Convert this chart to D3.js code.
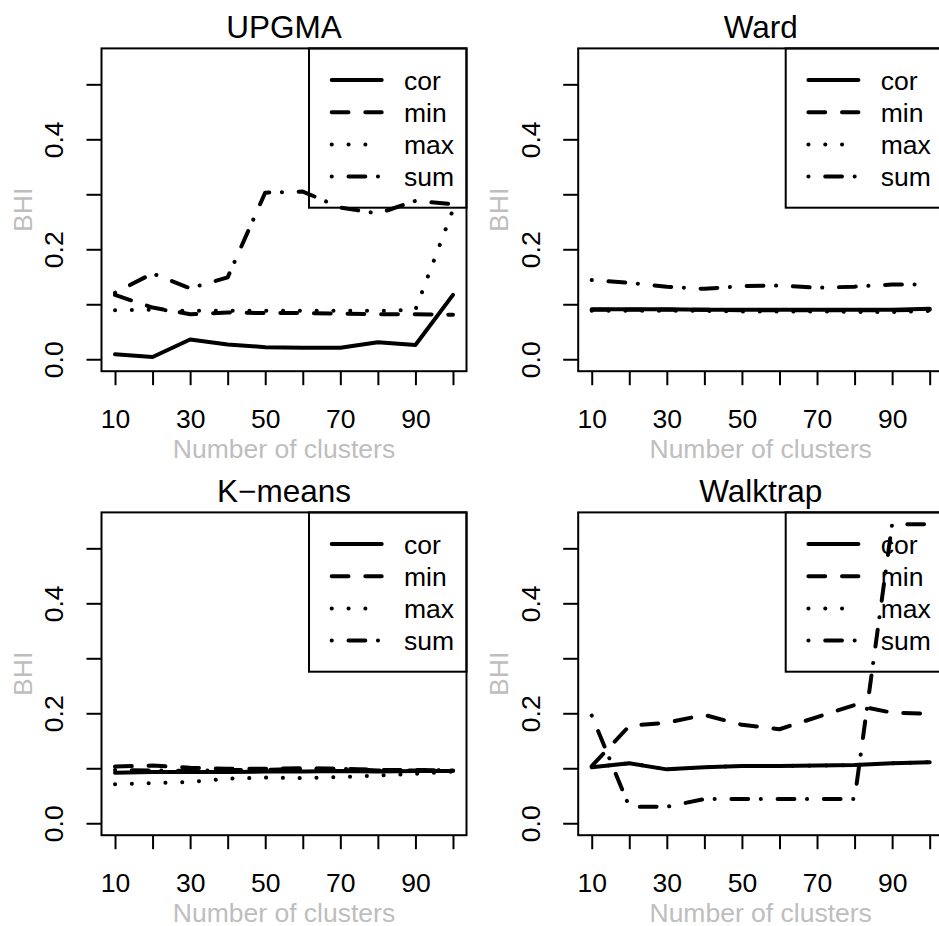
<!DOCTYPE html>
<html>
<head>
<meta charset="utf-8">
<script src="https://cdn.jsdelivr.net/npm/d3@7"></script>
<style>
  body { margin: 0; background: #fff; }
  svg { display: block; font-family: "Liberation Sans", Arial, Helvetica, sans-serif; }
</style>
</head>
<body>
<div id="chart"></div>
<script>
'use strict';

// cluster counts on the x axis
var clusters = [10, 20, 30, 40, 50, 60, 70, 80, 90, 100];
var xTicks = [10, 20, 30, 40, 50, 60, 70, 80, 90, 100];
var xLabels = [10, 30, 50, 70, 90];
var yTicks = [0, 0.1, 0.2, 0.3, 0.4, 0.5];
var yLabels = [0, 0.2, 0.4];

var titles = ['UPGMA', 'Ward', 'K\u2212means', 'Walktrap'];
var seriesNames = ['cor', 'min', 'max', 'sum'];

// BHI values
var upgmaCor = [0.009, 0.004, 0.036, 0.027, 0.022, 0.021, 0.021, 0.031, 0.026, 0.117];
var upgmaMin = [0.117, 0.094, 0.082, 0.085, 0.084, 0.084, 0.083, 0.082, 0.082, 0.081];
var upgmaMax = [0.089, 0.090, 0.088, 0.088, 0.088, 0.088, 0.088, 0.088, 0.090, 0.272];
var upgmaSum = [0.121, 0.156, 0.129, 0.149, 0.303, 0.305, 0.276, 0.265, 0.288, 0.282];

var wardCor = [0.091, 0.091, 0.091, 0.090, 0.090, 0.090, 0.090, 0.090, 0.090, 0.092];
var wardMin = [0.090, 0.090, 0.090, 0.090, 0.089, 0.089, 0.089, 0.089, 0.089, 0.090];
var wardMax = [0.088, 0.088, 0.088, 0.088, 0.087, 0.087, 0.087, 0.086, 0.086, 0.088];
var wardSum = [0.144, 0.139, 0.132, 0.128, 0.133, 0.134, 0.130, 0.132, 0.136, 0.136];

var kmeansCor = [0.092, 0.093, 0.093, 0.093, 0.094, 0.094, 0.095, 0.094, 0.095, 0.095];
var kmeansMin = [0.103, 0.105, 0.101, 0.099, 0.099, 0.100, 0.099, 0.097, 0.097, 0.096];
var kmeansMax = [0.071, 0.073, 0.075, 0.081, 0.083, 0.082, 0.084, 0.087, 0.090, 0.094];
var kmeansSum = [0.097, 0.096, 0.095, 0.097, 0.097, 0.099, 0.099, 0.096, 0.096, 0.097];

var walktrapCor = [0.102, 0.109, 0.098, 0.102, 0.104, 0.104, 0.105, 0.106, 0.109, 0.111];
var walktrapMin = [0.104, 0.177, 0.183, 0.197, 0.179, 0.171, 0.193, 0.215, 0.201, 0.199];
var walktrapMax = [0.102, 0.109, 0.098, 0.102, 0.104, 0.104, 0.105, 0.106, 0.109, 0.111];
var walktrapSum = [0.196, 0.030, 0.030, 0.044, 0.044, 0.044, 0.044, 0.044, 0.544, 0.544];

var panelData = [
  [upgmaCor, upgmaMin, upgmaMax, upgmaSum],
  [wardCor, wardMin, wardMax, wardSum],
  [kmeansCor, kmeansMin, kmeansMax, kmeansSum],
  [walktrapCor, walktrapMin, walktrapMax, walktrapSum]
];

// R lty 1..4 at lwd ~4px, round caps
var dashes = [null, '16.8,16.8', '0.1,16.7', '0.1,16.7,16.8,12.6'];

function render() {
  var width = 939;
  var height = 926;
  var plotW = 365, plotH = 322.8;
  var lefts = [101.5, 578.2];
  var tops = [48.4, 512.4];
  var grey = '#bebebe';

  var svg = d3.select('#chart').append('svg')
    .attr('width', width)
    .attr('height', height);

  svg.append('rect').attr('width', width).attr('height', height).attr('fill', '#fff');

  var defs = svg.append('defs');

  panelData.forEach(function(series, i) {
    var left = lefts[i % 2];
    var top = tops[Math.floor(i / 2)];

    var x = d3.scaleLinear().domain([6.4, 103.6]).range([0, plotW]);
    var y = d3.scaleLinear().domain([-0.02174, 0.56534]).range([plotH, 0]);

    var g = svg.append('g').attr('transform', 'translate(' + left + ',' + top + ')');

    defs.append('clipPath').attr('id', 'clip' + i)
      .append('rect').attr('width', plotW).attr('height', plotH);

    // x axis
    var xa = g.append('g')
      .attr('transform', 'translate(0,' + plotH + ')')
      .call(d3.axisBottom(x).tickValues(xTicks).tickSize(14)
        .tickFormat(function(d) { return xLabels.indexOf(d) >= 0 ? d : ''; }));
    xa.select('.domain').remove();
    xa.selectAll('line').attr('stroke', '#000').attr('stroke-width', 2);
    xa.selectAll('text')
      .attr('y', 57.1).attr('dy', null)
      .attr('font-size', '26.5px').attr('fill', '#000')
      .attr('font-family', null);

    // y axis
    var ya = g.append('g')
      .call(d3.axisLeft(y).tickValues(yTicks).tickSize(15)
        .tickFormat(function(d) {
          return yLabels.some(function(v) { return Math.abs(v - d) < 1e-9; }) ? d3.format('.1f')(d) : '';
        }));
    ya.select('.domain').remove();
    ya.selectAll('line').attr('stroke', '#000').attr('stroke-width', 2);
    ya.selectAll('text')
      .attr('transform', 'rotate(-90)')
      .attr('x', 0).attr('y', -38.5).attr('dy', null)
      .attr('text-anchor', 'middle')
      .attr('font-size', '26.5px').attr('fill', '#000')
      .attr('font-family', null);

    // title and axis titles
    g.append('text')
      .attr('x', plotW / 2).attr('y', -10.1)
      .attr('text-anchor', 'middle')
      .attr('font-size', '31.5px')
      .text(titles[i]);

    g.append('text')
      .attr('x', plotW / 2).attr('y', plotH + 87.2)
      .attr('text-anchor', 'middle')
      .attr('font-size', '26.5px').attr('fill', grey)
      .text('Number of clusters');

    g.append('text')
      .attr('transform', 'translate(' + (-69.8) + ',' + (plotH / 2) + ') rotate(-90)')
      .attr('text-anchor', 'middle')
      .attr('font-size', '26.5px').attr('fill', grey)
      .text('BHI');

    // legend (top right, transparent)
    var legW = 157.5, legH = 159.3;
    var leg = g.append('g').attr('transform', 'translate(' + (plotW - legW) + ',0)');
    leg.append('rect')
      .attr('width', legW).attr('height', legH)
      .attr('fill', 'none').attr('stroke', '#000').attr('stroke-width', 2);
    seriesNames.forEach(function(name, k) {
      var ly = 31.6 + k * 32.2;
      leg.append('line')
        .attr('x1', 22.7).attr('x2', 72.7)
        .attr('y1', ly).attr('y2', ly)
        .attr('stroke', '#000').attr('stroke-width', 4)
        .attr('stroke-linecap', 'round')
        .attr('stroke-dasharray', dashes[k]);
      leg.append('text')
        .attr('x', 95).attr('y', ly + 9.6)
        .attr('font-size', '26.5px')
        .text(name);
    });

    // series lines
    var line = d3.line()
      .x(function(d, j) { return x(clusters[j]); })
      .y(function(d) { return y(d); });

    g.append('g').attr('clip-path', 'url(#clip' + i + ')')
      .selectAll('path')
      .data(series)
      .enter()
      .append('path')
      .attr('d', line)
      .attr('fill', 'none')
      .attr('stroke', '#000')
      .attr('stroke-width', 4)
      .attr('stroke-linecap', 'round')
      .attr('stroke-linejoin', 'round')
      .attr('stroke-dasharray', function(d, k) { return dashes[k]; });

    // box
    g.append('rect')
      .attr('width', plotW).attr('height', plotH)
      .attr('fill', 'none').attr('stroke', '#000').attr('stroke-width', 2);
  });
}

render();
</script>
</body>
</html>
